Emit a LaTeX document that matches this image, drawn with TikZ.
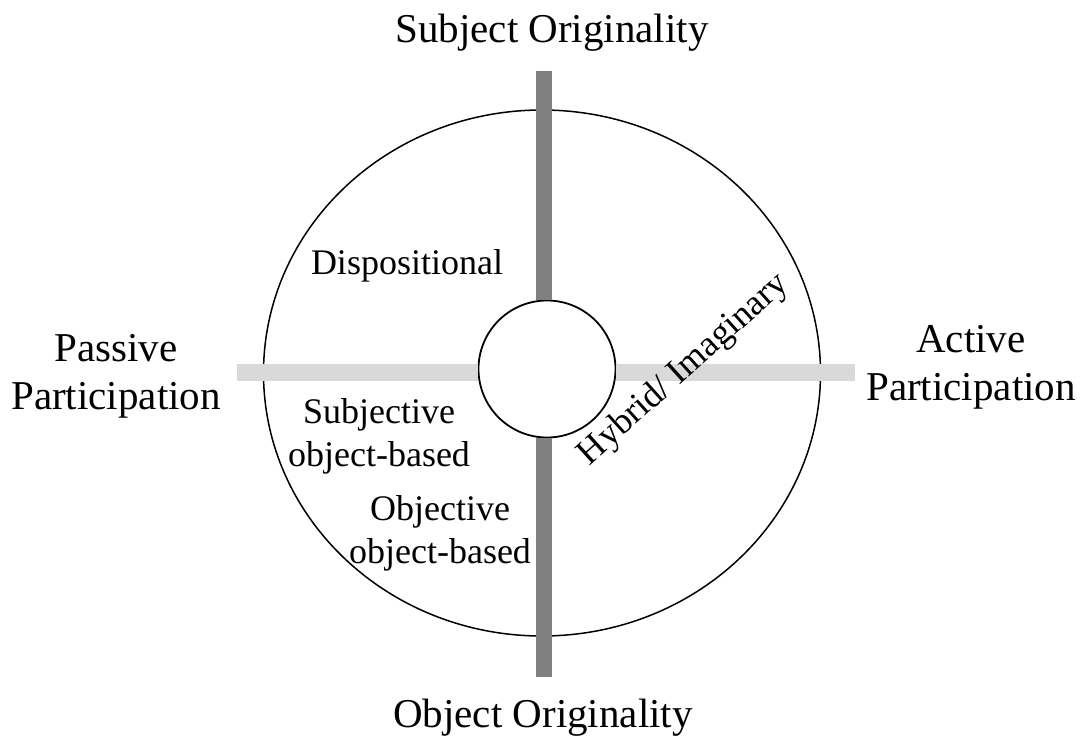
\documentclass[tikz,border=0pt]{standalone}
\usepackage{fontspec}
\setmainfont{Liberation Serif}
\usetikzlibrary{shapes.geometric}

\definecolor{axisdark}{HTML}{808080}
\definecolor{axislight}{HTML}{D9D9D9}

\tikzset{
  px/.style={x=1pt,y=-1pt},
  axislabel/.style={font=\fontsize{41}{48}\selectfont, align=center, inner sep=0pt},
  zonelabel/.style={font=\fontsize{36}{43}\selectfont, align=center, inner sep=0pt},
  vbar/.style={draw=axisdark, line width=16pt, line cap=butt},
  hbar/.style={draw=axislight, line width=17pt, line cap=butt},
  ring/.style={draw=black, line width=1.5pt, ellipse, inner sep=0pt},
  hub/.style={draw=black, line width=1.8pt, circle, inner sep=0pt, minimum size=137pt, fill=white}
}

\begin{document}
\begin{tikzpicture}[px]
  \useasboundingbox (0,0) rectangle (1086,739);

  % outer ring and central hub
  \node[ring, minimum width=557pt, minimum height=526pt] (outer) at (542,373) {};
  \node[hub] (centre) at (547,369) {};

  % end points of the two axes
  \coordinate (top) at (544,71);
  \coordinate (bottom) at (544,677);
  \coordinate (left) at (237,372);
  \coordinate (right) at (855,372);

  % originality axis (vertical) and participation axis (horizontal)
  \draw[vbar] (top) -- (top |- centre.north);
  \draw[vbar] (bottom |- centre.south) -- (bottom);
  \draw[hbar] (left) -- (left -| centre.west);
  \draw[hbar] (centre.east |- right) -- (right);

  % axis labels
  \node[axislabel, anchor=base] (subj) at (552,42) {Subject Originality};
  \node[axislabel, anchor=base] (obj) at (543,727) {Object Originality};
  \node[axislabel] (passive) at (116,376) {Passive\\Participation};
  \node[axislabel] (active) at (971,367) {Active\\Participation};

  % zone labels
  \node[zonelabel, anchor=base] (disp) at (407,274) {Dispositional};
  \node[zonelabel] (subjob) at (379,436) {Subjective\\object-based};
  \node[zonelabel] (objob) at (440,533) {Objective\\object-based};
  \node[zonelabel, rotate=42] (hybrid) at (684,370) {Hybrid/ Imaginary};
\end{tikzpicture}
\end{document}
